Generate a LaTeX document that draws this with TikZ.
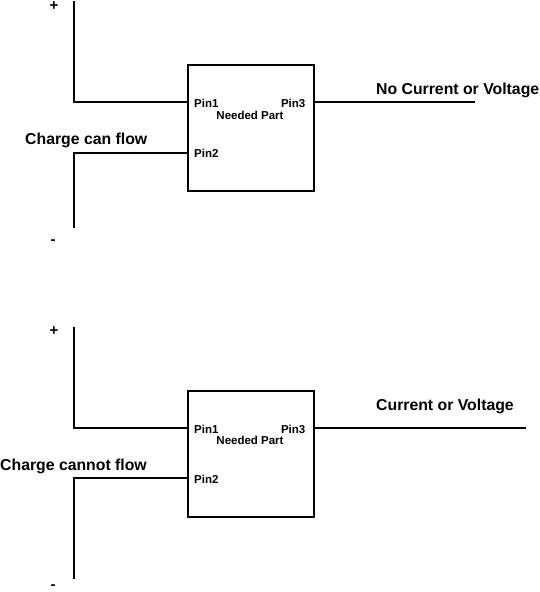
\documentclass[tikz,border=0pt]{standalone}
\usepackage{fontspec}
\setmainfont{Liberation Sans}
\begin{document}
\begin{tikzpicture}[x=1pt,y=-1pt,
  wire/.style={line width=2pt},
  part/.style={draw,line width=2pt,minimum width=126pt,minimum height=126pt,inner sep=0pt,anchor=north west},
  big/.style={font=\fontsize{15.8}{18}\selectfont\bfseries,inner sep=0pt,anchor=base west},
  sign/.style={font=\fontsize{15}{18}\selectfont\bfseries,inner sep=0pt,anchor=base},
  pin/.style={font=\fontsize{11.5}{13}\selectfont\bfseries,inner sep=0pt}]
\useasboundingbox (0,0) rectangle (540,592);

% ---------- top diagram ----------
\node[part] (box1) at (187,64) {};
\coordinate (t1plus) at (74,1);
\coordinate (t1p1) at (187,102);
\coordinate (t1p2) at (187,152.7);
\coordinate (t1minus) at (74,228);
\coordinate (t1p3) at (313,102);
\coordinate (t1out) at (475,102);
\draw[wire] (t1plus) |- (t1p1);
\draw[wire] (t1minus) |- (t1p2);
\draw[wire] (t1p3) -- (t1out);
\node[sign] (t1plussign) at (54,10.6) {+};
\node[sign] (t1minussign) at (53,244) {-};
\node[pin,anchor=base west] (t1pin1) at (194,107.3) {Pin1};
\node[pin,anchor=base east] (t1pin3) at (305.5,107.3) {Pin3};
\node[pin,anchor=base] (t1need) at (250,119) {Needed Part};
\node[pin,anchor=base west] (t1pin2) at (194,157.7) {Pin2};
\node[big] (t1charge) at (25,144) {Charge can flow};
\node[big] (t1outlabel) at (376,94.3) {No Current or Voltage};

% ---------- bottom diagram ----------
\node[part] (box2) at (187,390) {};
\coordinate (t2plus) at (74,327);
\coordinate (t2p1) at (187,427.7);
\coordinate (t2p2) at (187,478.3);
\coordinate (t2minus) at (74,579);
\coordinate (t2p3) at (313,427.7);
\coordinate (t2out) at (526,427.7);
\draw[wire] (t2plus) |- (t2p1);
\draw[wire] (t2minus) |- (t2p2);
\draw[wire] (t2p3) -- (t2out);
\node[sign] (t2plussign) at (54,335.6) {+};
\node[sign] (t2minussign) at (53,589.5) {-};
\node[pin,anchor=base west] (t2pin1) at (194,433.3) {Pin1};
\node[pin,anchor=base east] (t2pin3) at (305.5,433.3) {Pin3};
\node[pin,anchor=base] (t2need) at (250,444) {Needed Part};
\node[pin,anchor=base west] (t2pin2) at (194,483.3) {Pin2};
\node[big] (t2charge) at (0,470) {Charge cannot flow};
\node[big] (t2outlabel) at (376,410) {Current or Voltage};
\end{tikzpicture}
\end{document}
